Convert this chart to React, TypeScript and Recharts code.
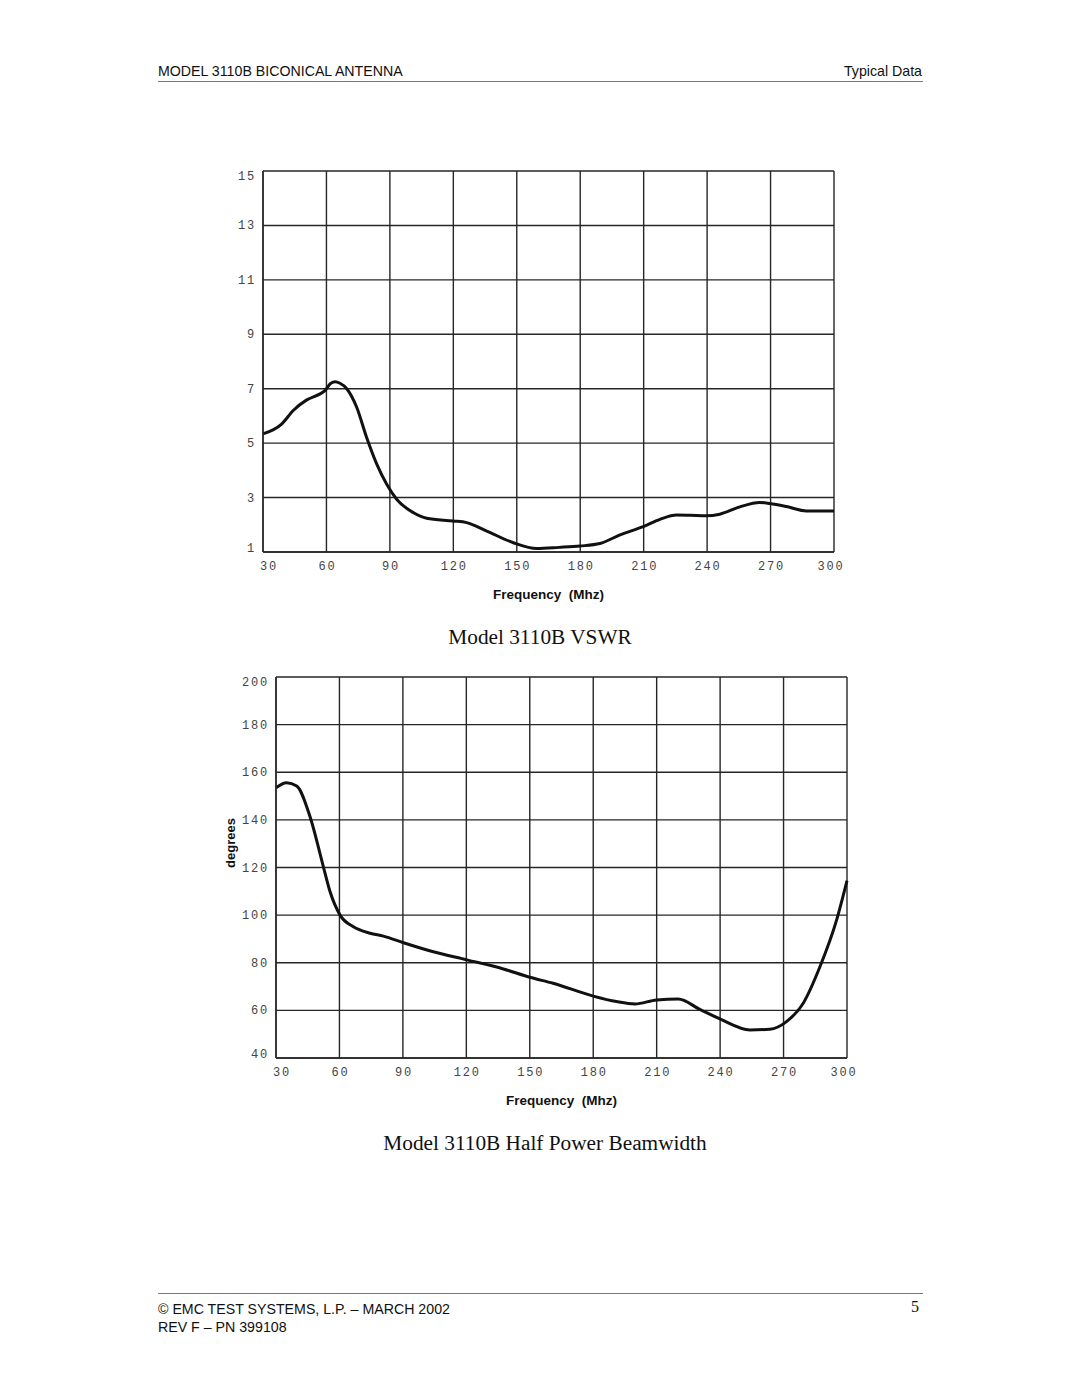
import React from "react";
import { LineChart, Line, XAxis, YAxis, CartesianGrid, Label } from "recharts";

// VSWR curve
const vswrFreq = [30, 38.8, 44.3, 50.7, 57, 59.3, 61.7, 64, 66.4, 69.6, 74.3, 79, 83.8, 88.5, 93.2, 101, 107.4, 120, 126.3, 135.8, 148.4, 159.4, 170, 180, 189.3, 198.8, 209.8, 217.7, 225.6, 232, 239.8, 246, 255.5, 264.9, 269.7, 277.6, 287, 293.4, 300];
const vswrVal = [5.34, 5.7, 6.2, 6.59, 6.81, 6.93, 7.18, 7.26, 7.2, 7.0, 6.32, 5.21, 4.23, 3.49, 2.94, 2.45, 2.24, 2.14, 2.08, 1.77, 1.34, 1.13, 1.17, 1.22, 1.31, 1.63, 1.93, 2.2, 2.36, 2.35, 2.33, 2.39, 2.66, 2.82, 2.78, 2.67, 2.51, 2.51, 2.51];

// Half power beamwidth curve
const beamFreq = [30, 35, 39.8, 46.1, 52.4, 55.5, 60.3, 66.6, 74.5, 80.8, 90.3, 104.4, 120.2, 137.5, 150, 161, 180, 191, 199.7, 210, 220.2, 230.4, 239.9, 254.1, 263.5, 271.4, 279.3, 287.2, 295.1, 300];
const beamVal = [153.5, 155.6, 154.2, 141.3, 120.3, 110, 100, 95.1, 92.4, 91.2, 88.4, 84.6, 81.2, 77.4, 73.9, 71.4, 66, 63.7, 62.7, 64.4, 64.8, 60.4, 56.4, 51.8, 52.1, 55.3, 63, 78.3, 98, 114.5];

const freqTicks = [30, 60, 90, 120, 150, 180, 210, 240, 270, 300];
const vswrTicks = [1, 3, 5, 7, 9, 11, 13, 15];
const beamTicks = [40, 60, 80, 100, 120, 140, 160, 180, 200];

const vswrData = vswrFreq.map((f, i) => ({ f, v: vswrVal[i] }));
const beamData = beamFreq.map((f, i) => ({ f, v: beamVal[i] }));

const tickStyle = { fontSize: 12, fontFamily: "Liberation Mono", fill: "#444", letterSpacing: 1.8 };
const sans = "Liberation Sans, Arial, sans-serif";
const serif = "Liberation Serif, Times New Roman, serif";

function YTick(props: any) {
  const { x, y, payload, first, last } = props;
  let dy = 4;
  if (payload.value === first) dy = 9;
  if (payload.value === last) dy = 0;
  return (
    <text x={x} y={y + dy} textAnchor="end" {...tickStyle}>
      {payload.value}
    </text>
  );
}

function XTick(props: any) {
  const { x, y, payload } = props;
  let dx = 1;
  if (payload.value === 30) dx = 6;
  if (payload.value === 300) dx = -3;
  return (
    <text x={x + dx} y={y + 9} dy="0.71em" textAnchor="middle" {...tickStyle}>
      {payload.value}
    </text>
  );
}

function Chart(props: any) {
  const { data, ticks, domain, yWidth, right, top } = props;
  return (
    <LineChart width={700} height={top + 381 + 69} data={data} margin={{ top, right, left: 0, bottom: 0 }}>
      <CartesianGrid stroke="#262626" strokeWidth={1.4} />
      <XAxis
        dataKey="f"
        type="number"
        domain={[30, 300]}
        ticks={freqTicks}
        interval={0}
        tickSize={0}
        tickMargin={0}
        tick={<XTick />}
        axisLine={{ stroke: "#262626", strokeWidth: 1.4 }}
        height={69}
      >
        <Label
          value={"Frequency\u00a0\u00a0(Mhz)"}
          position="insideBottom"
          offset={22}
          style={{ fontFamily: sans, fontWeight: "bold", fontSize: 13.5, fill: "#111" }}
        />
      </XAxis>
      <YAxis
        type="number"
        domain={domain}
        ticks={ticks}
        interval={0}
        tickSize={0}
        tickMargin={7}
        width={yWidth}
        tick={<YTick first={domain[1]} last={domain[0]} />}
        axisLine={{ stroke: "#262626", strokeWidth: 1.4 }}
      />
      <Line
        type="monotone"
        dataKey="v"
        stroke="#111"
        strokeWidth={3}
        dot={false}
        isAnimationActive={false}
      />
    </LineChart>
  );
}

export default function App() {
  return (
    <div style={{ position: "absolute", left: 0, top: 0, width: 1080, height: 1397, background: "#fff" }}>
      <div style={{ position: "absolute", left: 158, top: 63, fontFamily: sans, fontSize: 14.2, color: "#111" }}>
        MODEL 3110B BICONICAL ANTENNA
      </div>
      <div style={{ position: "absolute", right: 1080 - 922, top: 63, fontFamily: sans, fontSize: 14.2, color: "#111" }}>
        Typical Data
      </div>
      <div style={{ position: "absolute", left: 158, top: 81, width: 765, height: 1, background: "#777" }} />

      <div style={{ position: "absolute", left: 200, top: 150 }}>
        <Chart data={vswrData} ticks={vswrTicks} domain={[1, 15]} yWidth={63} right={66} top={21} />
      </div>
      <div style={{ position: "absolute", left: 0, width: 1080, top: 625, textAlign: "center", fontFamily: serif, fontSize: 21.3, color: "#111" }}>
        Model 3110B VSWR
      </div>

      <div style={{ position: "absolute", left: 200, top: 650 }}>
        <Chart data={beamData} ticks={beamTicks} domain={[40, 200]} yWidth={76} right={53} top={27} />
      </div>
      <div
        style={{
          position: "absolute",
          left: 230,
          top: 843,
          transform: "translate(-50%, -50%) rotate(-90deg)",
          fontFamily: sans,
          fontWeight: "bold",
          fontSize: 13,
          color: "#111",
        }}
      >
        degrees
      </div>
      <div style={{ position: "absolute", left: 5, width: 1080, top: 1131, textAlign: "center", fontFamily: serif, fontSize: 21.3, color: "#111" }}>
        Model 3110B Half Power Beamwidth
      </div>

      <div style={{ position: "absolute", left: 158, top: 1293, width: 765, height: 1, background: "#777" }} />
      <div style={{ position: "absolute", left: 158, top: 1300, fontFamily: sans, fontSize: 14.2, color: "#111", lineHeight: "18px" }}>
        © EMC TEST SYSTEMS, L.P. – MARCH 2002
        <br />
        REV F – PN 399108
      </div>
      <div style={{ position: "absolute", right: 1080 - 919, top: 1298, fontFamily: serif, fontSize: 16, color: "#111" }}>
        5
      </div>
    </div>
  );
}
